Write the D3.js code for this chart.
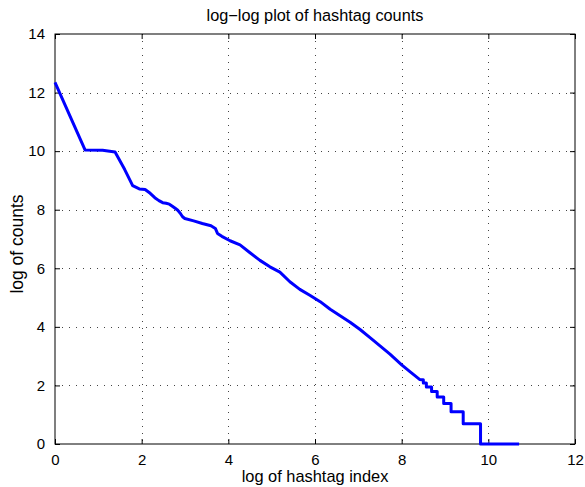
<!DOCTYPE html>
<html>
<head>
<meta charset="utf-8">
<script src="https://cdn.jsdelivr.net/npm/d3@7"></script>
<style>
  body { margin: 0; background: #fff; }
  text { font-family: "Liberation Sans", Arial, sans-serif; }
</style>
</head>
<body>
<div id="chart"></div>
<script>
// values: x = log(rank), y = log(count)
const logIndex = [0, 0.693, 1.099, 1.386, 1.609, 1.792, 1.946, 2.079, 2.197, 2.303,
  2.398, 2.485, 2.565, 2.639, 2.708, 2.773, 2.833, 2.890, 2.944, 2.996,
  3.2, 3.4, 3.6, 3.7, 3.75, 3.85, 4.04, 4.27, 4.5, 4.73,
  4.96, 5.19, 5.42, 5.65, 5.88, 6.12, 6.35, 6.58, 6.81, 7.04,
  7.27, 7.5, 7.73, 8.0, 8.19, 8.42,
  8.45, 8.50, 8.50, 8.57, 8.57, 8.69, 8.69, 8.82, 8.82, 8.97,
  8.97, 9.14, 9.14, 9.42, 9.42, 9.82, 9.82, 10.71];
const logCount = [12.35, 10.04, 10.03, 9.97, 9.37, 8.82, 8.71, 8.69, 8.56, 8.41,
  8.31, 8.24, 8.22, 8.19, 8.12, 8.05, 7.98, 7.88, 7.76, 7.70,
  7.62, 7.53, 7.45, 7.36, 7.19, 7.09, 6.94, 6.80, 6.53, 6.27,
  6.05, 5.87, 5.54, 5.28, 5.08, 4.86, 4.60, 4.38, 4.16, 3.91,
  3.63, 3.35, 3.07, 2.70, 2.47, 2.20,
  2.197, 2.197, 2.079, 2.079, 1.946, 1.946, 1.792, 1.792, 1.609, 1.609,
  1.386, 1.386, 1.099, 1.099, 0.693, 0.693, 0, 0];

const xTicks = [0, 2, 4, 6, 8, 10, 12];
const yTicks = [0, 2, 4, 6, 8, 10, 12, 14];

const width = 585;
const height = 487;
const margin = { top: 34, right: 10, bottom: 43, left: 55 };

const svg = d3.select("#chart")
  .append("svg")
  .attr("width", width)
  .attr("height", height);

const x = d3.scaleLinear().domain([0, 12]).range([margin.left, width - margin.right]);
const y = d3.scaleLinear().domain([0, 14]).range([height - margin.bottom, margin.top]);

const data = logIndex.map((v, i) => ({ x: v, y: logCount[i] }));

// grid
const grid = svg.append("g")
  .attr("stroke", "#444")
  .attr("stroke-width", 1)
  .attr("stroke-dasharray", "1,6");
grid.selectAll(".gx")
  .data(xTicks.slice(1, -1))
  .join("line")
  .attr("x1", d => Math.round(x(d)) + 0.5).attr("x2", d => Math.round(x(d)) + 0.5)
  .attr("y1", y(14)).attr("y2", y(0));
grid.selectAll(".gy")
  .data(yTicks.slice(1, -1))
  .join("line")
  .attr("y1", d => Math.round(y(d)) + 0.5).attr("y2", d => Math.round(y(d)) + 0.5)
  .attr("x1", x(0)).attr("x2", x(12));

// axes with inward ticks
const tickFont = "15px";
svg.append("g")
  .attr("transform", `translate(0,${y(0)})`)
  .call(d3.axisBottom(x).tickValues(xTicks).tickSize(-5).tickPadding(10))
  .call(g => g.select(".domain").remove())
  .call(g => g.selectAll("text").style("font-size", tickFont).attr("fill", "#000"));
svg.append("g")
  .attr("transform", `translate(0,${y(14)})`)
  .call(d3.axisTop(x).tickValues(xTicks).tickSize(-5).tickFormat(""))
  .call(g => g.select(".domain").remove());
svg.append("g")
  .attr("transform", `translate(${x(0)},0)`)
  .call(d3.axisLeft(y).tickValues(yTicks).tickSize(-5).tickPadding(10))
  .call(g => g.select(".domain").remove())
  .call(g => g.selectAll("text").style("font-size", tickFont).attr("fill", "#000"));
svg.append("g")
  .attr("transform", `translate(${x(12)},0)`)
  .call(d3.axisRight(y).tickValues(yTicks).tickSize(-5).tickFormat(""))
  .call(g => g.select(".domain").remove());

// box
svg.append("rect")
  .attr("x", x(0)).attr("y", y(14))
  .attr("width", x(12) - x(0)).attr("height", y(0) - y(14))
  .attr("fill", "none").attr("stroke", "#000").attr("stroke-width", 1);

// the curve
const line = d3.line().x(d => x(d.x)).y(d => y(d.y));
svg.append("path")
  .datum(data)
  .attr("fill", "none")
  .attr("stroke", "#0000ff")
  .attr("stroke-width", 3)
  .attr("stroke-linejoin", "round")
  .attr("d", line);

// labels
svg.append("text")
  .attr("x", (x(0) + x(12)) / 2).attr("y", 21)
  .attr("text-anchor", "middle")
  .style("font-size", "16.3px")
  .text("log\u2212log plot of hashtag counts");

svg.append("text")
  .attr("x", (x(0) + x(12)) / 2).attr("y", 482)
  .attr("text-anchor", "middle")
  .style("font-size", "16.4px")
  .text("log of hashtag index");

svg.append("text")
  .attr("transform", "translate(23,244) rotate(-90)")
  .attr("text-anchor", "middle")
  .style("font-size", "17.5px")
  .text("log of counts");
</script>
</body>
</html>
